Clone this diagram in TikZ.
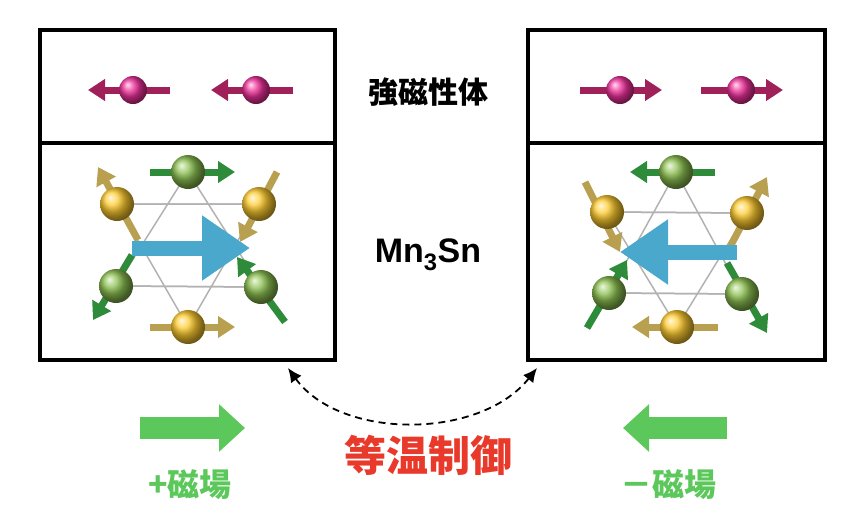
\documentclass[tikz,border=0pt]{standalone}
\usepackage{fontspec}
\setmainfont{Liberation Sans}
\newfontfamily\cjk{Noto Sans CJK JP}
\usetikzlibrary{arrows.meta}
\definecolor{gr1}{HTML}{8CC050}
\definecolor{gr2}{HTML}{2E8B3A}
\definecolor{ye1}{HTML}{FFCC30}
\definecolor{ye2}{HTML}{B8A050}
\definecolor{mg1}{HTML}{F0309A}
\definecolor{mg2}{HTML}{A0205A}
\definecolor{b1}{HTML}{4AA8CC}
\definecolor{lg}{HTML}{5CC85C}
\definecolor{rd}{HTML}{E8392B}
\tikzset{
  box/.style = {draw, line width=4pt},
  atom/.style = {circle, minimum size=#1, inner sep=0pt},
  gatom/.style = {atom=34pt, ball color=gr1},
  yatom/.style = {atom=34pt, ball color=ye1},
  matom/.style = {atom=28pt, ball color=mg1},
  spin/.style = {line width=7pt, -{Triangle[length=17pt,width=21pt]}},
  bond/.style = {draw=gray!60, line width=1.5pt},
  big/.style = {draw=b1, line width=15pt, -{Triangle[length=48pt,width=62pt]}},
  field/.style = {draw=lg, line width=22pt, -{Triangle[length=26pt,width=46pt]}},
  jp/.style = {font=\cjk\bfseries\fontsize{32}{36}\selectfont}
}
\begin{document}
\begin{tikzpicture}[x=1pt, y=-1pt]
\useasboundingbox (0,0) rectangle (856,520);

% boxes:
\draw [box] (40,30) rectangle (335,360);
\draw [box] (40,143) -- (335,143);
\draw [box] (528,30) rectangle (825,360);
\draw [box] (528,143) -- (825,143);

% ferromagnet spins:
\foreach \x in {133,256} {
  \draw [spin, draw=mg2] (\x+37,90) -- ++(-82,0);
  \node [matom] at (\x,90) {};
}
\foreach \x in {620,741} {
  \draw [spin, draw=mg2] (\x-40,90) -- ++(82,0);
  \node [matom] at (\x,90) {};
}

% left Mn3Sn:
\coordinate (gtL) at (188,172); \coordinate (ylL) at (117,204);
\coordinate (yrL) at (259,204); \coordinate (glL) at (116,286);
\coordinate (grL) at (261,287); \coordinate (ybL) at (188,327);
\draw [bond] (ylL) -- (yrL) (glL) -- (grL);
\draw [bond] (gtL) -- (glL) -- (grL) -- cycle (ylL) -- (yrL) -- (ybL) -- cycle;
\draw [spin, draw=gr2] (gtL) ++(-38,0) -- ++(85,0);
\draw [spin, draw=ye2] (ylL) ++(21,36) -- ++(-40,-73);
\draw [spin, draw=ye2] (yrL) ++(18,-32) -- ++(-37,70);
\draw [spin, draw=gr2] (glL) ++(16,-31) -- ++(-39,65);
\draw [spin, draw=gr2] (grL) ++(24,35) -- ++(-48,-65);
\draw [spin, draw=ye2] (ybL) ++(-38,0) -- ++(85,0);
\node [gatom] (gtl) at (gtL) {}; \node [yatom] (yll) at (ylL) {};
\node [yatom] (yrl) at (yrL) {}; \node [gatom] (gll) at (glL) {};
\node [gatom] (grl) at (grL) {}; \node [yatom] (ybl) at (ybL) {};
\draw [big] (132,248) -- (250,248);

% right Mn3Sn:
\coordinate (gtR) at (676,172); \coordinate (ylR) at (607,212);
\coordinate (yrR) at (747,213); \coordinate (glR) at (609,293);
\coordinate (grR) at (742,294); \coordinate (ybR) at (677,327);
\draw [bond] (ylR) -- (yrR) (glR) -- (grR);
\draw [bond] (gtR) -- (glR) -- (grR) -- cycle (ylR) -- (yrR) -- (ybR) -- cycle;
\draw [spin, draw=gr2] (gtR) ++(39,0) -- ++(-85,0);
\draw [spin, draw=ye2] (ylR) ++(-22,-30) -- ++(35,70);
\draw [spin, draw=ye2] (yrR) ++(-17,34) -- ++(37,-70);
\draw [spin, draw=gr2] (glR) ++(-22,35) -- ++(40,-68);
\draw [spin, draw=gr2] (grR) ++(-15,-31) -- ++(40,70);
\draw [spin, draw=ye2] (ybR) ++(41,0) -- ++(-86,0);
\node [gatom] (gtr) at (gtR) {}; \node [yatom] (ylr) at (ylR) {};
\node [yatom] (yrr) at (yrR) {}; \node [gatom] (glr) at (glR) {};
\node [gatom] (grr) at (grR) {}; \node [yatom] (ybr) at (ybR) {};
\draw [big] (737,252) -- (620,252);

% labels:
\node [jp, font=\cjk\bfseries\fontsize{30}{34}\selectfont] (fm) at (428,92) {強磁性体};
\node [font=\bfseries\fontsize{34}{38}\selectfont] (mn) at (428,255) {Mn$_\mathbf{3}$Sn};

% isothermal control:
\coordinate (endR) at (537,368);
\coordinate (endL) at (288,368);
\draw [line width=1.8pt, dash pattern=on 7pt off 5pt,
  {Latex[length=14pt,width=13pt]}-{Latex[length=14pt,width=13pt]}]
  (endL) .. controls (340,440) and (480,440) .. (endR);
\node [jp, text=rd, font=\cjk\bfseries\fontsize{42}{46}\selectfont] (iso) at (428,455) {等温制御};

% fields:
\draw [field] (140,428) -- (245,428);
\draw [field] (727,428) -- (623,428);
\node [jp, text=lg] (pf) at (190,485) {+磁場};
\node [jp, text=lg] (mf) at (668,485) {－磁場};
\end{tikzpicture}
\end{document}
